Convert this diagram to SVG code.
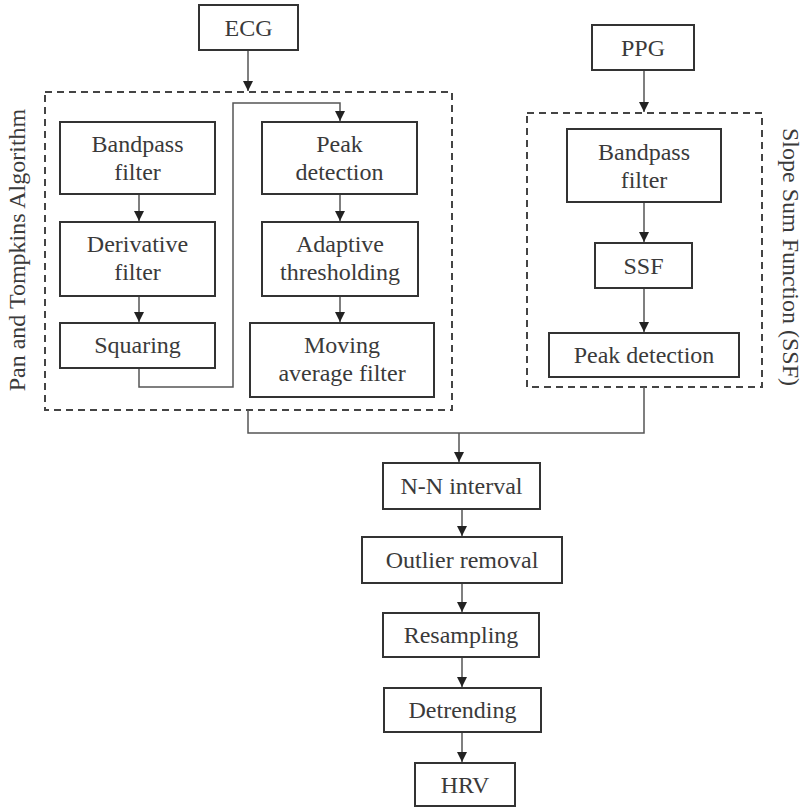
<svg xmlns="http://www.w3.org/2000/svg" width="803" height="808" viewBox="0 0 803 808">
<style>
.box{fill:#fff;stroke:#333;stroke-width:2}
.grp{fill:none;stroke:#444;stroke-width:2;stroke-dasharray:7 5}
.t{font-family:'Liberation Serif','Times New Roman',Times,'DejaVu Serif',serif;font-size:24px;fill:#3a3a3a;text-anchor:middle}
.c{fill:none;stroke:#555;stroke-width:1.5}
</style>
<defs>
<marker id="ah" viewBox="0 0 10 10" refX="10" refY="5" markerWidth="10" markerHeight="10" markerUnits="userSpaceOnUse" orient="auto">
<path d="M0,0 L10,5 L0,10 z" fill="#222"/>
</marker>
</defs>
<rect width="803" height="808" fill="#fff"/>
<g id="group-pan-tompkins">
<rect class="grp" x="45" y="92" width="407" height="318"/>
<text class="t" font-family="Liberation Serif, serif" transform="translate(25,250) rotate(-90)">Pan and Tompkins Algorithm</text>
</g>
<g id="group-ssf">
<rect class="grp" x="527" y="113" width="235" height="274"/>
<text class="t" font-family="Liberation Serif, serif" transform="translate(783,257) rotate(90)">Slope Sum Function (SSF)</text>
</g>
<g id="connectors">
<path class="c" d="M248,50 V91" marker-end="url(#ah)"/>
<path class="c" d="M139,194 V221" marker-end="url(#ah)"/>
<path class="c" d="M139,296 V322" marker-end="url(#ah)"/>
<path class="c" d="M139,368 V387 H233 V103 H340 V121" marker-end="url(#ah)"/>
<path class="c" d="M340,194 V221" marker-end="url(#ah)"/>
<path class="c" d="M340,296 V322" marker-end="url(#ah)"/>
<path class="c" d="M644,70 V112" marker-end="url(#ah)"/>
<path class="c" d="M644,202 V242" marker-end="url(#ah)"/>
<path class="c" d="M644,288 V332" marker-end="url(#ah)"/>
<path class="c" d="M248,410 V433 H644 V387"/>
<path class="c" d="M459,433 V462" marker-end="url(#ah)"/>
<path class="c" d="M462,509 V536" marker-end="url(#ah)"/>
<path class="c" d="M462,583 V612" marker-end="url(#ah)"/>
<path class="c" d="M462,657 V687" marker-end="url(#ah)"/>
<path class="c" d="M462,732 V762" marker-end="url(#ah)"/>
</g>
<g id="ecg"><rect class="box" x="199" y="5" width="99" height="45"/><text class="t" font-family="Liberation Serif, serif" x="248.5" y="36">ECG</text></g>
<g id="ecg-bandpass"><rect class="box" x="60" y="122" width="155" height="72"/><text class="t" font-family="Liberation Serif, serif" x="137.5" y="152">Bandpass</text><text class="t" font-family="Liberation Serif, serif" x="137.5" y="180">filter</text></g>
<g id="derivative"><rect class="box" x="60" y="222" width="155" height="74"/><text class="t" font-family="Liberation Serif, serif" x="137.5" y="252">Derivative</text><text class="t" font-family="Liberation Serif, serif" x="137.5" y="280">filter</text></g>
<g id="squaring"><rect class="box" x="60" y="323" width="155" height="45"/><text class="t" font-family="Liberation Serif, serif" x="137.5" y="353">Squaring</text></g>
<g id="ecg-peak"><rect class="box" x="262" y="122" width="155" height="72"/><text class="t" font-family="Liberation Serif, serif" x="339.5" y="152">Peak</text><text class="t" font-family="Liberation Serif, serif" x="339.5" y="180">detection</text></g>
<g id="adaptive"><rect class="box" x="262" y="222" width="156" height="74"/><text class="t" font-family="Liberation Serif, serif" x="340" y="252">Adaptive</text><text class="t" font-family="Liberation Serif, serif" x="340" y="280">thresholding</text></g>
<g id="moving-average"><rect class="box" x="250" y="323" width="184" height="74"/><text class="t" font-family="Liberation Serif, serif" x="342" y="353">Moving</text><text class="t" font-family="Liberation Serif, serif" x="342" y="381">average filter</text></g>
<g id="ppg"><rect class="box" x="592" y="25" width="102" height="45"/><text class="t" font-family="Liberation Serif, serif" x="643" y="56">PPG</text></g>
<g id="ppg-bandpass"><rect class="box" x="567" y="129" width="154" height="73"/><text class="t" font-family="Liberation Serif, serif" x="644" y="160">Bandpass</text><text class="t" font-family="Liberation Serif, serif" x="644" y="188">filter</text></g>
<g id="ssf"><rect class="box" x="595" y="243" width="97" height="45"/><text class="t" font-family="Liberation Serif, serif" x="643.5" y="274">SSF</text></g>
<g id="ppg-peak"><rect class="box" x="549" y="333" width="190" height="44"/><text class="t" font-family="Liberation Serif, serif" x="644" y="363">Peak detection</text></g>
<g id="nn-interval"><rect class="box" x="383" y="463" width="157" height="46"/><text class="t" font-family="Liberation Serif, serif" x="461.5" y="494">N-N interval</text></g>
<g id="outlier"><rect class="box" x="362" y="537" width="200" height="46"/><text class="t" font-family="Liberation Serif, serif" x="462" y="568">Outlier removal</text></g>
<g id="resampling"><rect class="box" x="383" y="613" width="156" height="44"/><text class="t" font-family="Liberation Serif, serif" x="461" y="643">Resampling</text></g>
<g id="detrending"><rect class="box" x="384" y="688" width="157" height="44"/><text class="t" font-family="Liberation Serif, serif" x="462.5" y="718">Detrending</text></g>
<g id="hrv"><rect class="box" x="415" y="763" width="100" height="43"/><text class="t" font-family="Liberation Serif, serif" x="465" y="793">HRV</text></g>
</svg>
